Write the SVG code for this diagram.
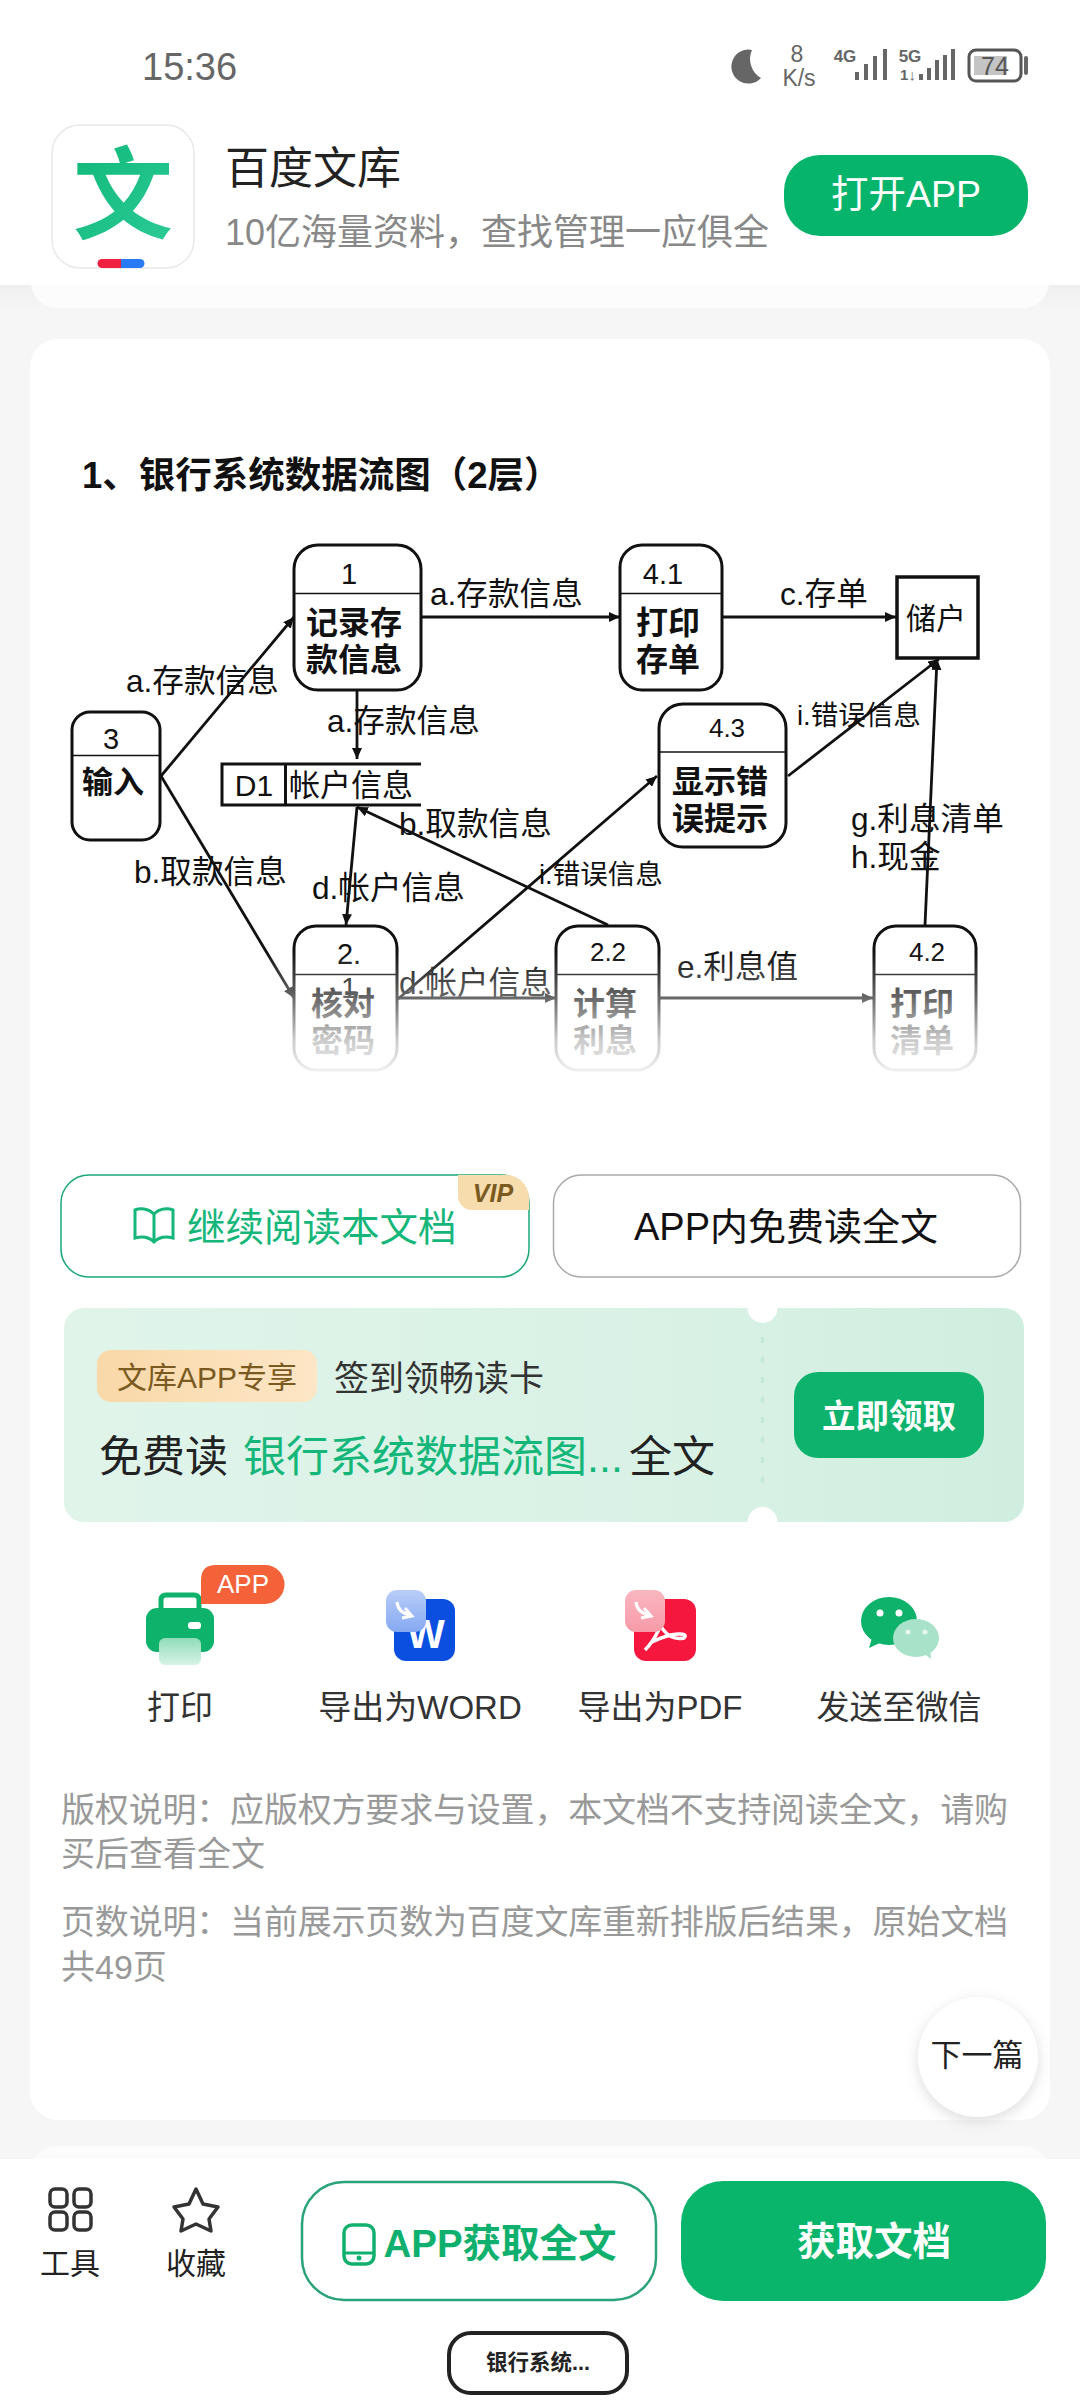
<svg xmlns="http://www.w3.org/2000/svg" width="1080" height="2400" viewBox="0 0 1080 2400">
<style>
text{font-family:"Liberation Sans","Noto Sans CJK SC",sans-serif;dominant-baseline:central}
.m{text-anchor:middle}
.nb{fill:#fff;stroke:#111;stroke-width:3}
.dv{stroke:#111;stroke-width:1.5}
.nn{font-size:29px;fill:#111;text-anchor:middle}
.nt{font-size:32px;font-weight:bold;fill:#111;text-anchor:middle}
.lb{font-size:31.600px;fill:#111}
.lbs{font-size:27.500px;fill:#111}
.c{fill:none;stroke:#111;stroke-width:2.800;marker-end:url(#ah)}
.gt{font-size:34px;fill:#999}
.tl{font-size:33px;fill:#333;text-anchor:middle}
</style>
<defs>
<marker id="ah" markerUnits="userSpaceOnUse" markerWidth="12" markerHeight="10" refX="11" refY="5" orient="auto"><path d="M0,0L11,5L0,10z" fill="#111"/></marker>
<linearGradient id="fade" x1="0" y1="0" x2="0" y2="1"><stop offset="0" stop-color="#fff" stop-opacity="0"/><stop offset="0.35" stop-color="#fff" stop-opacity="0.35"/><stop offset="0.7" stop-color="#fff" stop-opacity="0.78"/><stop offset="1" stop-color="#fff" stop-opacity="0.97"/></linearGradient>
<linearGradient id="cp" x1="0" y1="0" x2="1" y2="0"><stop offset="0" stop-color="#e0f4ea"/><stop offset="0.7" stop-color="#d8f1e5"/><stop offset="1" stop-color="#cfeee0"/></linearGradient>
<linearGradient id="pl" x1="0" y1="0" x2="1" y2="0"><stop offset="0" stop-color="#f9d8a8"/><stop offset="1" stop-color="#fde6c6"/></linearGradient>
<linearGradient id="pp" x1="0" y1="0" x2="0" y2="1"><stop offset="0" stop-color="#8fdcb8"/><stop offset="1" stop-color="#d8f3e6"/></linearGradient>
<linearGradient id="hs" x1="0" y1="0" x2="0" y2="1"><stop offset="0" stop-color="#efefef"/><stop offset="1" stop-color="#f7f7f7"/></linearGradient>
<linearGradient id="wen" x1="0" y1="0" x2="1" y2="1"><stop offset="0" stop-color="#10b878"/><stop offset="1" stop-color="#2ccb98"/></linearGradient>
<linearGradient id="ow" x1="0" y1="0" x2="0" y2="1"><stop offset="0" stop-color="#b9cdf8"/><stop offset="1" stop-color="#85a9f2"/></linearGradient>
<linearGradient id="op" x1="0" y1="0" x2="0" y2="1"><stop offset="0" stop-color="#f9b7c0"/><stop offset="1" stop-color="#f79aa8"/></linearGradient>
<filter id="sh" x="-30%" y="-30%" width="160%" height="160%"><feGaussianBlur stdDeviation="7"/></filter>
</defs>

<rect width="1080" height="2400" fill="#f6f6f6"/>
<rect x="0" y="285" width="1080" height="30" fill="url(#hs)"/>
<rect x="31" y="240" width="1018" height="68" rx="26" fill="#fcfcfc"/>
<rect x="0" y="0" width="1080" height="285" fill="#fff"/>

<g id="status-bar">
<text x="142" y="67" font-size="38" fill="#666">15:36</text>
<path d="M752 50A17 17 0 1 0 761 78A22 22 0 0 1 752 50z" fill="#666"/>
<text x="797" y="54" font-size="23" fill="#666" class="m">8</text>
<text x="799" y="78" font-size="23" fill="#666" class="m">K/s</text>
<text x="845" y="56" font-size="17" font-weight="bold" fill="#666" class="m">4G</text>
<path d="M857 72v8M866 64v16M875 56v24M885 49v31" stroke="#666" stroke-width="4" fill="none"/>
<text x="910" y="56" font-size="17" font-weight="bold" fill="#666" class="m">5G</text>
<text x="908" y="74" font-size="15" font-weight="bold" fill="#666" class="m">1↓</text>
<path d="M921 74v6M929 68v12M937 60v20M945 55v25M953 49v31" stroke="#666" stroke-width="4" fill="none"/>
<rect x="969" y="50" width="52" height="31" rx="7" fill="#fff" stroke="#555" stroke-width="3"/>
<rect x="974" y="56" width="33" height="19" fill="#c4c4c4"/>
<text x="995" y="66" font-size="25" fill="#555" class="m">74</text>
<rect x="1024" y="56" width="4" height="19" rx="2" fill="#666"/>
</g>

<g id="app-header">
<rect x="52" y="125" width="142" height="143" rx="28" fill="#fff" stroke="#e8e8e8" stroke-width="1.500"/>
<text x="123" y="196" font-size="100" font-weight="bold" fill="url(#wen)" class="m">文</text>
<path d="M121 259H102A4.500 4.500 0 0 0 102 268H121z" fill="#f0213f"/>
<path d="M121 259H140A4.500 4.500 0 0 1 140 268H121z" fill="#2b7af5"/>
<text x="225" y="168" font-size="44" fill="#222">百度文库</text>
<text x="225" y="232" font-size="36" fill="#888">10亿海量资料，查找管理一应俱全</text>
<rect x="784" y="155" width="244" height="81" rx="36" fill="#07b46b"/>
<text x="906" y="194" font-size="37.500" fill="#fff" class="m">打开APP</text>
</g>

<rect id="card" x="30" y="339" width="1020" height="1781" rx="28" fill="#fff"/>
<rect x="31" y="2146" width="1018" height="60" rx="26" fill="#fcfcfc"/>

<text id="title" x="82" y="475" font-size="36.500" font-weight="bold" fill="#111">1、银行系统数据流图（2层）</text>

<g id="connectors">
<path class="c" d="M161 776L294 617"/>
<path class="c" d="M161 776L294 998"/>
<path class="c" d="M421 617H620"/>
<path class="c" d="M722 617H896"/>
<path class="c" d="M357 689V759"/>
<path class="c" d="M357 807L346 925"/>
<path class="c" d="M608 925L357 807"/>
<path class="c" d="M398 999L657 776"/>
<path class="c" d="M788 776L939 659"/>
<path class="c" d="M925 925L937 659"/>
<path class="c" d="M398 998H556"/>
<path class="c" d="M659 998H873"/>
</g>

<g id="node-1"><rect class="nb" x="294" y="545" width="127" height="145" rx="24"/><path class="dv" d="M294 593.500H421"/><text class="nn" x="349" y="574">1</text><text class="nt" x="354" y="623">记录存</text><text class="nt" x="354" y="660">款信息</text></g>
<g id="node-4-1"><rect class="nb" x="620" y="545" width="102" height="145" rx="22"/><path class="dv" d="M620 593.500H722"/><text class="nn" x="663" y="574">4.1</text><text class="nt" x="668" y="623">打印</text><text class="nt" x="668" y="660">存单</text></g>
<g id="node-user"><rect x="897" y="577" width="81" height="81" fill="#fff" stroke="#111" stroke-width="3.500"/><text x="936" y="618" font-size="30" fill="#111" class="m">储户</text></g>
<g id="node-3"><rect class="nb" x="72" y="712" width="88" height="128" rx="18"/><path class="dv" d="M72 755.500H160"/><text class="nn" x="111" y="739">3</text><text class="nt" x="113" y="782" style="font-size:31px">输入</text></g>
<g id="store-d1"><path d="M421 764H222V805H421M285.500 764V805" fill="#fff" stroke="#111" stroke-width="3"/><text x="254" y="785" font-size="30" fill="#111" class="m">D1</text><text x="289" y="785" font-size="31" fill="#111">帐户信息</text></g>
<g id="node-4-3"><rect class="nb" x="659" y="704" width="127" height="143" rx="24"/><path class="dv" d="M659 752H786"/><text class="nn" x="727" y="728" style="font-size:26px">4.3</text><text class="nt" x="720" y="782">显示错</text><text class="nt" x="720" y="819">误提示</text></g>
<g id="node-2-1"><rect class="nb" x="294" y="926" width="103" height="144" rx="22"/><path class="dv" d="M294 974.500H397"/><text class="nn" x="349" y="954">2.</text><text class="nn" x="349" y="988">1</text><text class="nt" x="343" y="1004">核对</text><text class="nt" x="343" y="1041">密码</text></g>
<g id="node-2-2"><rect class="nb" x="556" y="926" width="103" height="144" rx="22"/><path class="dv" d="M556 974.500H659"/><text class="nn" x="608" y="952" style="font-size:26px">2.2</text><text class="nt" x="605" y="1004">计算</text><text class="nt" x="605" y="1041">利息</text></g>
<g id="node-4-2"><rect class="nb" x="874" y="926" width="102" height="144" rx="22"/><path class="dv" d="M874 974.500H976"/><text class="nn" x="927" y="952" style="font-size:26px">4.2</text><text class="nt" x="922" y="1004">打印</text><text class="nt" x="922" y="1041">清单</text></g>

<g id="connector-labels">
<text class="lb" x="126" y="681">a.存款信息</text>
<text class="lb" x="430" y="594">a.存款信息</text>
<text class="lb" x="327" y="721">a.存款信息</text>
<text class="lb" x="134" y="872">b.取款信息</text>
<text class="lb" x="399" y="824">b.取款信息</text>
<text class="lb" x="312" y="888">d.帐户信息</text>
<text class="lb" x="399" y="983">d.帐户信息</text>
<text class="lbs" x="539" y="874">i.错误信息</text>
<text class="lbs" x="797" y="715">i.错误信息</text>
<text class="lb" x="780" y="594">c.存单</text>
<text class="lb" x="677" y="967">e.利息值</text>
<text class="lb" x="851" y="819">g.利息清单</text>
<text class="lb" x="851" y="857">h.现金</text>
</g>
<rect x="60" y="952" width="960" height="126" fill="url(#fade)"/>

<g id="btn-continue">
<rect x="61" y="1175" width="468" height="102" rx="28" fill="#fff" stroke="#1aa874" stroke-width="1.500"/>
<path d="M458 1175H506A23 23 0 0 1 529 1198V1210H472A14 14 0 0 1 458 1196z" fill="#f7dcae"/>
<text x="493" y="1193" font-size="25" font-weight="bold" font-style="italic" fill="#7a5a20" class="m">VIP</text>
<path d="M154 1214C148 1208 140 1208 135 1210V1238C142 1236 149 1237 154 1242C159 1237 166 1236 173 1238V1210C168 1208 160 1208 154 1214zV1242" fill="none" stroke="#14b67a" stroke-width="3"/>
<text x="187" y="1227" font-size="38.500" fill="#14b67a">继续阅读本文档</text>
</g>
<g id="btn-free">
<rect x="553.500" y="1175" width="467" height="102" rx="28" fill="#fff" stroke="#aaa" stroke-width="1.500"/>
<text x="786" y="1227" font-size="38" fill="#111" class="m">APP内免费读全文</text>
</g>

<g id="coupon">
<rect x="64" y="1308" width="960" height="214" rx="20" fill="url(#cp)"/>
<circle cx="762.500" cy="1308" r="15" fill="#fff"/>
<circle cx="762.500" cy="1522" r="15" fill="#fff"/>
<path d="M762.500 1337V1497" stroke="#bfe8d4" stroke-width="2.500" stroke-dasharray="6 14"/>
<rect x="97" y="1350" width="220" height="52" rx="14" fill="url(#pl)"/>
<text x="207" y="1377" font-size="30" fill="#7a5a20" class="m">文库APP专享</text>
<text x="334" y="1378" font-size="35" fill="#333">签到领畅读卡</text>
<text x="99" y="1457" font-size="43" fill="#222">免费读</text>
<text x="243" y="1457" font-size="43" fill="#14b67a">银行系统数据流图...</text>
<text x="629" y="1457" font-size="43" fill="#222">全文</text>
<rect x="794" y="1372" width="190" height="86" rx="24" fill="#0db36c"/>
<text x="889" y="1416" font-size="33.500" font-weight="bold" fill="#fff" class="m">立即领取</text>
</g>

<g id="tool-print">
<path d="M161 1610V1600Q161 1595 166 1595H194Q199 1595 199 1600V1610" fill="none" stroke="#0eb26b" stroke-width="5"/>
<rect x="146" y="1608" width="68" height="44" rx="11" fill="#0eb26b"/>
<rect x="188" y="1622" width="13" height="7" rx="3" fill="#fff"/>
<rect x="159" y="1638" width="42" height="27" rx="6" fill="url(#pp)"/>
<path d="M216 1565H265A19 19 0 0 1 265 1604H201V1580Q201 1565 216 1565z" fill="#f4623a"/>
<text x="243" y="1584" font-size="26" fill="#fff" class="m">APP</text>
<text class="tl" x="180" y="1707">打印</text>
</g>
<g id="tool-word">
<rect x="394" y="1599" width="61" height="62" rx="12" fill="#0a4fe0"/>
<text x="426" y="1634" font-size="40" font-weight="bold" fill="#fff" class="m">W</text>
<rect x="386" y="1590" width="40" height="42" rx="11" fill="url(#ow)"/>
<path d="M397 1602Q398 1613 411 1615M405 1608L412 1616L402 1618" fill="none" stroke="#fff" stroke-width="3"/>
<text class="tl" x="420" y="1707">导出为WORD</text>
</g>
<g id="tool-pdf">
<rect x="634" y="1599" width="62" height="62" rx="12" fill="#f5173d"/>
<path d="M645 1650C655 1640 665 1620 660 1618C655 1618 665 1642 684 1638C690 1632 672 1632 652 1642" fill="none" stroke="#fff" stroke-width="3.500"/>
<rect x="625" y="1590" width="40" height="42" rx="11" fill="url(#op)"/>
<path d="M636 1602Q637 1613 650 1615M644 1608L651 1616L641 1618" fill="none" stroke="#fff" stroke-width="3"/>
<text class="tl" x="660" y="1707">导出为PDF</text>
</g>
<g id="tool-wechat">
<ellipse cx="889" cy="1621" rx="28" ry="24" fill="#0eb26b"/>
<path d="M872 1638L869 1648L882 1642z" fill="#0eb26b"/>
<circle cx="880" cy="1613" r="3.500" fill="#fff"/><circle cx="899" cy="1613" r="3.500" fill="#fff"/>
<ellipse cx="916" cy="1638" rx="23" ry="19" fill="#a8e2c8"/>
<path d="M922 1652L931 1659L930 1648z" fill="#a8e2c8"/>
<circle cx="908" cy="1632" r="2.500" fill="#e6f7ef"/><circle cx="925" cy="1632" r="2.500" fill="#e6f7ef"/>
<text class="tl" x="899" y="1707">发送至微信</text>
</g>

<g id="notes">
<text class="gt" x="61" y="1810" textLength="947">版权说明：应版权方要求与设置，本文档不支持阅读全文，请购</text>
<text class="gt" x="61" y="1854">买后查看全文</text>
<text class="gt" x="61" y="1922" textLength="947">页数说明：当前展示页数为百度文库重新排版后结果，原始文档</text>
<text class="gt" x="61" y="1967">共49页</text>
</g>

<g id="next">
<circle cx="978" cy="2061" r="60" fill="#bbb" filter="url(#sh)" opacity="0.5"/>
<circle cx="978" cy="2057" r="60" fill="#fff"/>
<text x="977" y="2055" font-size="31" fill="#222" class="m">下一篇</text>
</g>

<g id="bottom-bar">
<rect x="0" y="2159" width="1080" height="241" fill="#fff"/>
<g fill="none" stroke="#333" stroke-width="3.500">
<rect x="50" y="2189" width="17" height="18" rx="5"/><rect x="74" y="2189" width="17" height="18" rx="5"/>
<rect x="50" y="2212" width="17" height="18" rx="5"/><rect x="74" y="2212" width="17" height="18" rx="5"/>
<path d="M196 2189L203 2204L218 2207L209 2219L211 2231L196 2224L181 2231L183 2219L174 2207L189 2204z" stroke-linejoin="round"/>
</g>
<text x="70" y="2263" font-size="30" fill="#222" class="m">工具</text>
<text x="196" y="2263" font-size="30" fill="#222" class="m">收藏</text>
<rect x="302" y="2182" width="354" height="118" rx="42" fill="#fff" stroke="#2aa27a" stroke-width="2.500"/>
<rect x="344" y="2225" width="30" height="39" rx="8" fill="none" stroke="#12b06e" stroke-width="3.500"/>
<path d="M344 2253H374" stroke="#12b06e" stroke-width="3"/><circle cx="359" cy="2258" r="2.500" fill="#12b06e"/>
<text x="500" y="2243" font-size="38.500" font-weight="bold" fill="#0fb06e" class="m">APP获取全文</text>
<rect x="681" y="2181" width="365" height="120" rx="42" fill="#08b56b"/>
<text x="874" y="2241" font-size="38.500" font-weight="bold" fill="#fff" class="m">获取文档</text>
<rect x="449" y="2333" width="178" height="60" rx="22" fill="#fff" stroke="#222" stroke-width="4"/>
<text x="538" y="2363" font-size="21.500" font-weight="bold" fill="#222" class="m">银行系统...</text>
</g>
</svg>
